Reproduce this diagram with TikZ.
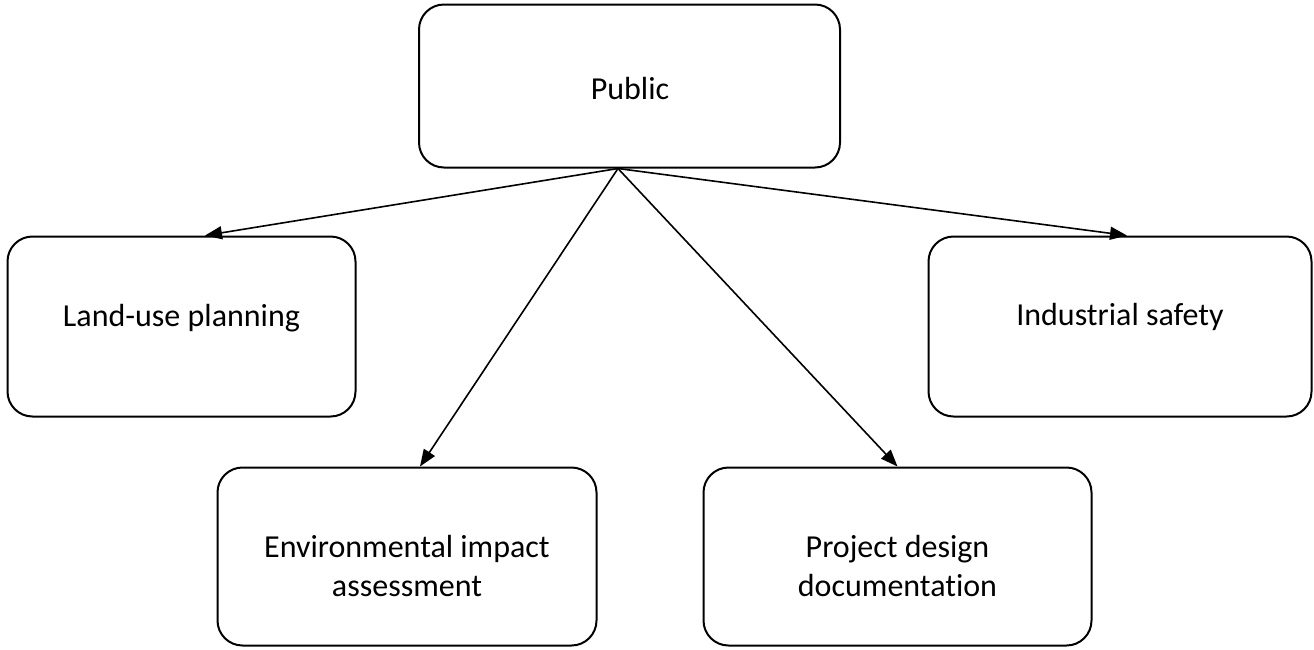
\documentclass[tikz,border=0pt]{standalone}
\usepackage{fontspec}
\setmainfont{Carlito}[Ligatures=NoCommon]
\usetikzlibrary{arrows.meta}
\begin{document}
\begin{tikzpicture}[x=1pt,y=-1pt,
  box/.style={draw=black, line width=2pt, rounded corners=25pt, inner sep=0pt},
  lbl/.style={anchor=base, inner sep=0pt, align=center, font=\fontsize{32}{39}\selectfont},
  conn/.style={line width=1.6pt, -{Triangle[length=17pt,width=13pt]}}]
\useasboundingbox (0,0) rectangle (1314,649);
% boxes
\node[box, minimum width=421pt, minimum height=163pt] (pub) at (629.5,86) {};
\node[box, minimum width=348pt, minimum height=180pt] (land) at (181.5,326.5) {};
\node[box, minimum width=383pt, minimum height=180pt] (ind) at (1120,326.5) {};
\node[box, minimum width=379pt, minimum height=178pt] (env) at (407,556.5) {};
\node[box, minimum width=388pt, minimum height=178pt] (proj) at (897.5,556.5) {};
% texts
\node[lbl] (pubT) at (630,99) {Public};
\node[lbl] (landT) at (181.5,326) {Land-use planning};
\node[lbl] (indT) at (1120,325) {Industrial safety};
\node[lbl] (envT) at (407,596) {Environmental impact\\assessment};
\node[lbl] (projT) at (897.5,596) {Project design\\documentation};
% connectors
\coordinate (src) at ([xshift=-11.5pt]pub.south);
\draw[conn] (src) -- ([xshift=23.5pt]land.north);
\draw[conn] (src) -- ([xshift=7pt]ind.north);
\draw[conn] (src) -- ([xshift=13pt]env.north);
\draw[conn] (src) -- ([xshift=0pt]proj.north);
\end{tikzpicture}
\end{document}
